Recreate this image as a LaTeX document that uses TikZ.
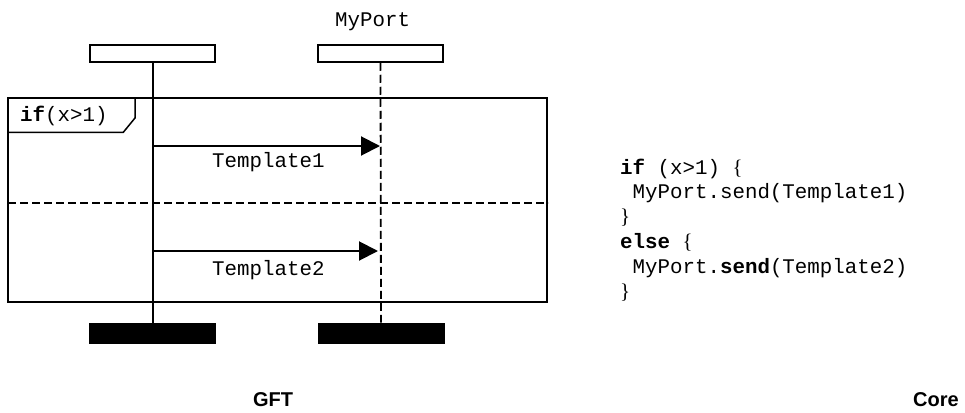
\documentclass[tikz,border=0pt]{standalone}
\usepackage{fontspec}
\setmainfont{Liberation Serif}
\setmonofont{Liberation Mono}
\newfontfamily\gftsans{Liberation Sans}
\usetikzlibrary{arrows.meta}
\newcommand{\sbr}[1]{{\rmfamily #1}}
\tikzset{
  headbox/.style={draw, line width=1.5pt, minimum width=125pt, minimum height=17pt, inner sep=0pt},
  endbox/.style={draw, fill=black, line width=1pt, minimum width=126pt, minimum height=20pt, inner sep=0pt},
  code/.style={font=\ttfamily\fontsize{20.8}{25}\selectfont, inner sep=0pt, anchor=base west},
  lbl/.style={font=\ttfamily\fontsize{20.8}{25}\selectfont, inner sep=0pt, anchor=base west},
  brc/.style={font=\rmfamily\fontsize{21}{25}\selectfont, inner sep=0pt, anchor=base west},
  title/.style={font=\gftsans\bfseries\fontsize{20}{23}\selectfont, inner sep=0pt, anchor=base},
  msg/.style={line width=2pt, -{Triangle[length=19pt,width=19pt]}},
  dsh/.style={line width=1.8pt, dash pattern=on 8pt off 4pt}
}
\begin{document}
\begin{tikzpicture}[x=1pt,y=-1pt]
\useasboundingbox (0,0) rectangle (965,412);
% instance heads
\node[headbox] (hA) at (152.5,53.5) {};
\node[headbox] (hB) at (380.5,53.5) {};
\node[lbl] (port) at (335,26.7) {MyPort};
% end boxes
\node[endbox] (eA) at (152.5,333) {};
\node[endbox] (eB) at (381,333) {};
% frame
\node[draw, line width=1.8pt, minimum width=539pt, minimum height=204pt, inner sep=0pt] (frame) at (277.5,200) {};
\draw[line width=1.5pt] (8,132.3) -- (123.3,132.3) -- (135,118) -- (135,98);
\node[lbl] (tag) at (20,121.7) {\textbf{if}(x>1)};
\draw[dsh] (8,203.3) -- (548,203.3);
% lifelines
\draw[line width=2pt] (hA.south) -- (eA.north);
\draw[dsh] (hB.south) -- (eB.north);
% messages
\coordinate (m1s) at (152.7,146);
\coordinate (m1e) at (380,146);
\coordinate (m2s) at (152.7,251);
\coordinate (m2e) at (378,251);
\draw[msg] (m1s) -- (m1e);
\draw[msg] (m2s) -- (m2e);
\node[lbl] (t1) at (212,167) {Template1};
\node[lbl] (t2) at (212,275) {Template2};
% code
\node[code] (c1) at (620,174) {\textbf{if} (x>1) \sbr{\{}};
\node[code] (c2) at (632.5,198.8) {MyPort.send(Template1)};
\node[brc] (c3) at (620,223.6) {\}};
\node[code] (c4) at (620,248.4) {\textbf{else} \sbr{\{}};
\node[code] (c5) at (632.5,273.2) {MyPort.\textbf{send}(Template2)};
\node[brc] (c6) at (620,298) {\}};
% titles
\node[title] (gft) at (273,406) {GFT};
\node[title] (core) at (936,406) {Core};
\end{tikzpicture}
\end{document}
